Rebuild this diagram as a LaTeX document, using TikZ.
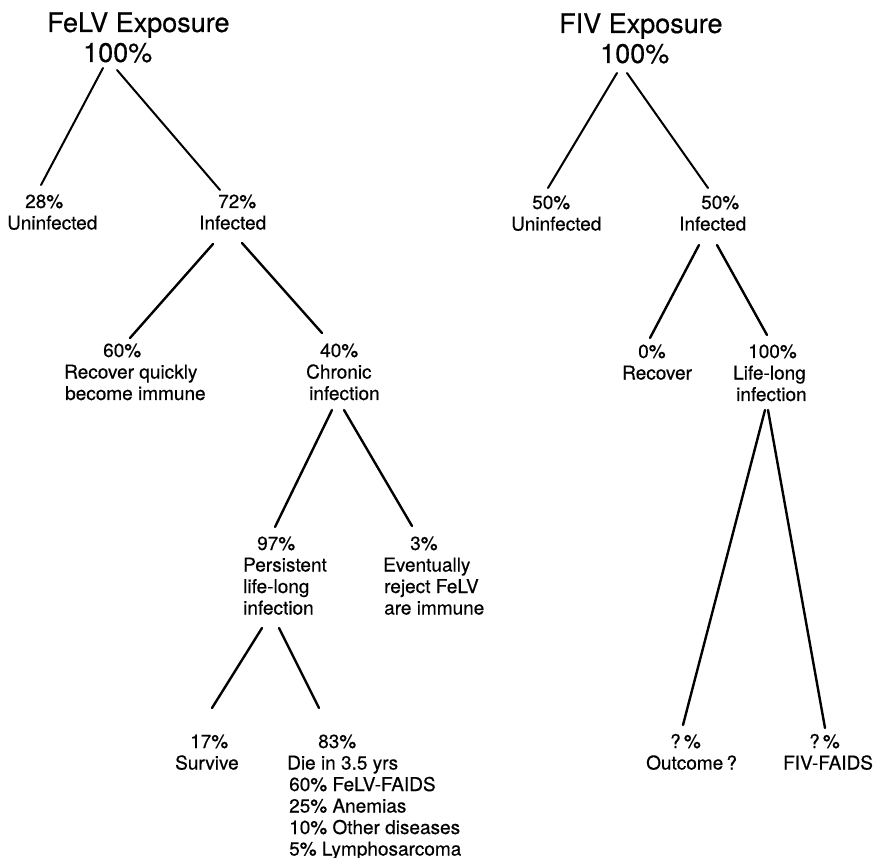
\documentclass[tikz,border=0pt]{standalone}
\usepackage{fontspec}
\setmainfont{TeX Gyre Heros}[FakeBold=0.45]
\usetikzlibrary{calc}
\newcommand\ind[1]{\hspace*{#1pt}}
\newcommand\blk[1]{\begin{tabular}[t]{@{}l@{}}#1\end{tabular}}
\begin{document}
\begin{tikzpicture}[x=1pt,y=-1pt,
  lbl/.style={inner sep=0pt,anchor=base west,font=\fontsize{19}{21.5}\selectfont},
  ttl/.style={inner sep=0pt,anchor=base west,font=\fontsize{27}{30}\selectfont},
  br/.style={line width=2.4pt,line cap=round},
  brt/.style={line width=2pt,line cap=round}]
\fill[white] (0,0) rectangle (875,858);
\useasboundingbox (0,0) rectangle (875,858);
% FeLV tree
\node[ttl] (felv) at (47,32) {\blk{FeLV Exposure\\ \ind{36}100\%}};
\node[lbl] (un1) at (7,208) {\blk{\ind{18}28\%\\ Uninfected}};
\node[lbl] (inf1) at (199,208) {\blk{\ind{19}72\%\\ Infected}};
\node[lbl] (rec) at (64,357) {\blk{\ind{39}60\%\\ Recover quickly\\ \ind{1}become immune}};
\node[lbl] (chr) at (306,357) {\blk{\ind{14}40\%\\ Chronic\\ \ind{3}infection}};
\node[lbl] (per) at (243,550) {\blk{\ind{14}97\%\\ Persistent\\ life-long\\ infection}};
\node[lbl] (rej) at (383,550) {\blk{\ind{27}3\%\\ Eventually\\ \ind{1}reject FeLV\\ \ind{1}are immune}};
\node[lbl] (sur) at (175,748) {\blk{\ind{15}17\%\\ Survive}};
\node[lbl] (die) at (287,748) {\blk{\ind{31}83\%\\ Die in 3.5 yrs\\ \ind{2}60\% FeLV-FAIDS\\ \ind{2}25\% Anemias\\ \ind{2}10\% Other diseases\\ \ind{2}5\% Lymphosarcoma}};
\draw[brt] ($(felv.base west)+(56,36)$) -- ($(un1.base west)+(34,-23)$);
\draw[brt] ($(felv.base west)+(70,38)$) -- ($(inf1.base west)+(21,-18)$);
\draw[br] ($(inf1.base west)+(14,36)$) -- ($(rec.base west)+(66,-19)$);
\draw[br] ($(inf1.base west)+(43,35)$) -- ($(chr.base west)+(16,-24)$);
\draw[br] ($(chr.base west)+(26,53)$) -- ($(per.base west)+(32,-23)$);
\draw[br] ($(chr.base west)+(38,53)$) -- ($(rej.base west)+(29,-24)$);
\draw[br] ($(per.base west)+(19,78)$) -- ($(sur.base west)+(37,-40)$);
\draw[br] ($(per.base west)+(36,78)$) -- ($(die.base west)+(32,-40)$);
% FIV tree
\node[ttl] (fiv) at (559,33) {\blk{FIV Exposure\\ \ind{41}100\%}};
\node[lbl] (un2) at (511,209) {\blk{\ind{21}50\%\\ Uninfected}};
\node[lbl] (inf2) at (679,209) {\blk{\ind{22}50\%\\ Infected}};
\node[lbl] (rec2) at (622,358) {\blk{\ind{16}0\%\\ Recover}};
\node[lbl] (life) at (733,358) {\blk{\ind{15}100\%\\ Life-long\\ \ind{3}infection}};
\node[lbl] (out) at (646,748) {\blk{\ind{24}?\,\%\\ Outcome\,?}};
\node[lbl] (faids) at (783,748) {\blk{\ind{26}?\,\%\\ FIV-FAIDS}};
\draw[brt] ($(fiv.base west)+(58,40)$) -- ($(un2.base west)+(37,-21)$);
\draw[brt] ($(fiv.base west)+(68,40)$) -- ($(inf2.base west)+(29,-21)$);
\draw[br] ($(inf2.base west)+(20,36)$) -- ($(rec2.base west)+(28,-20)$);
\draw[br] ($(inf2.base west)+(38,36)$) -- ($(life.base west)+(34,-23)$);
\draw[br] ($(life.base west)+(32,52)$) -- ($(out.base west)+(37,-23)$);
\draw[br] ($(life.base west)+(35,52)$) -- ($(faids.base west)+(42,-20)$);
\end{tikzpicture}
\end{document}
